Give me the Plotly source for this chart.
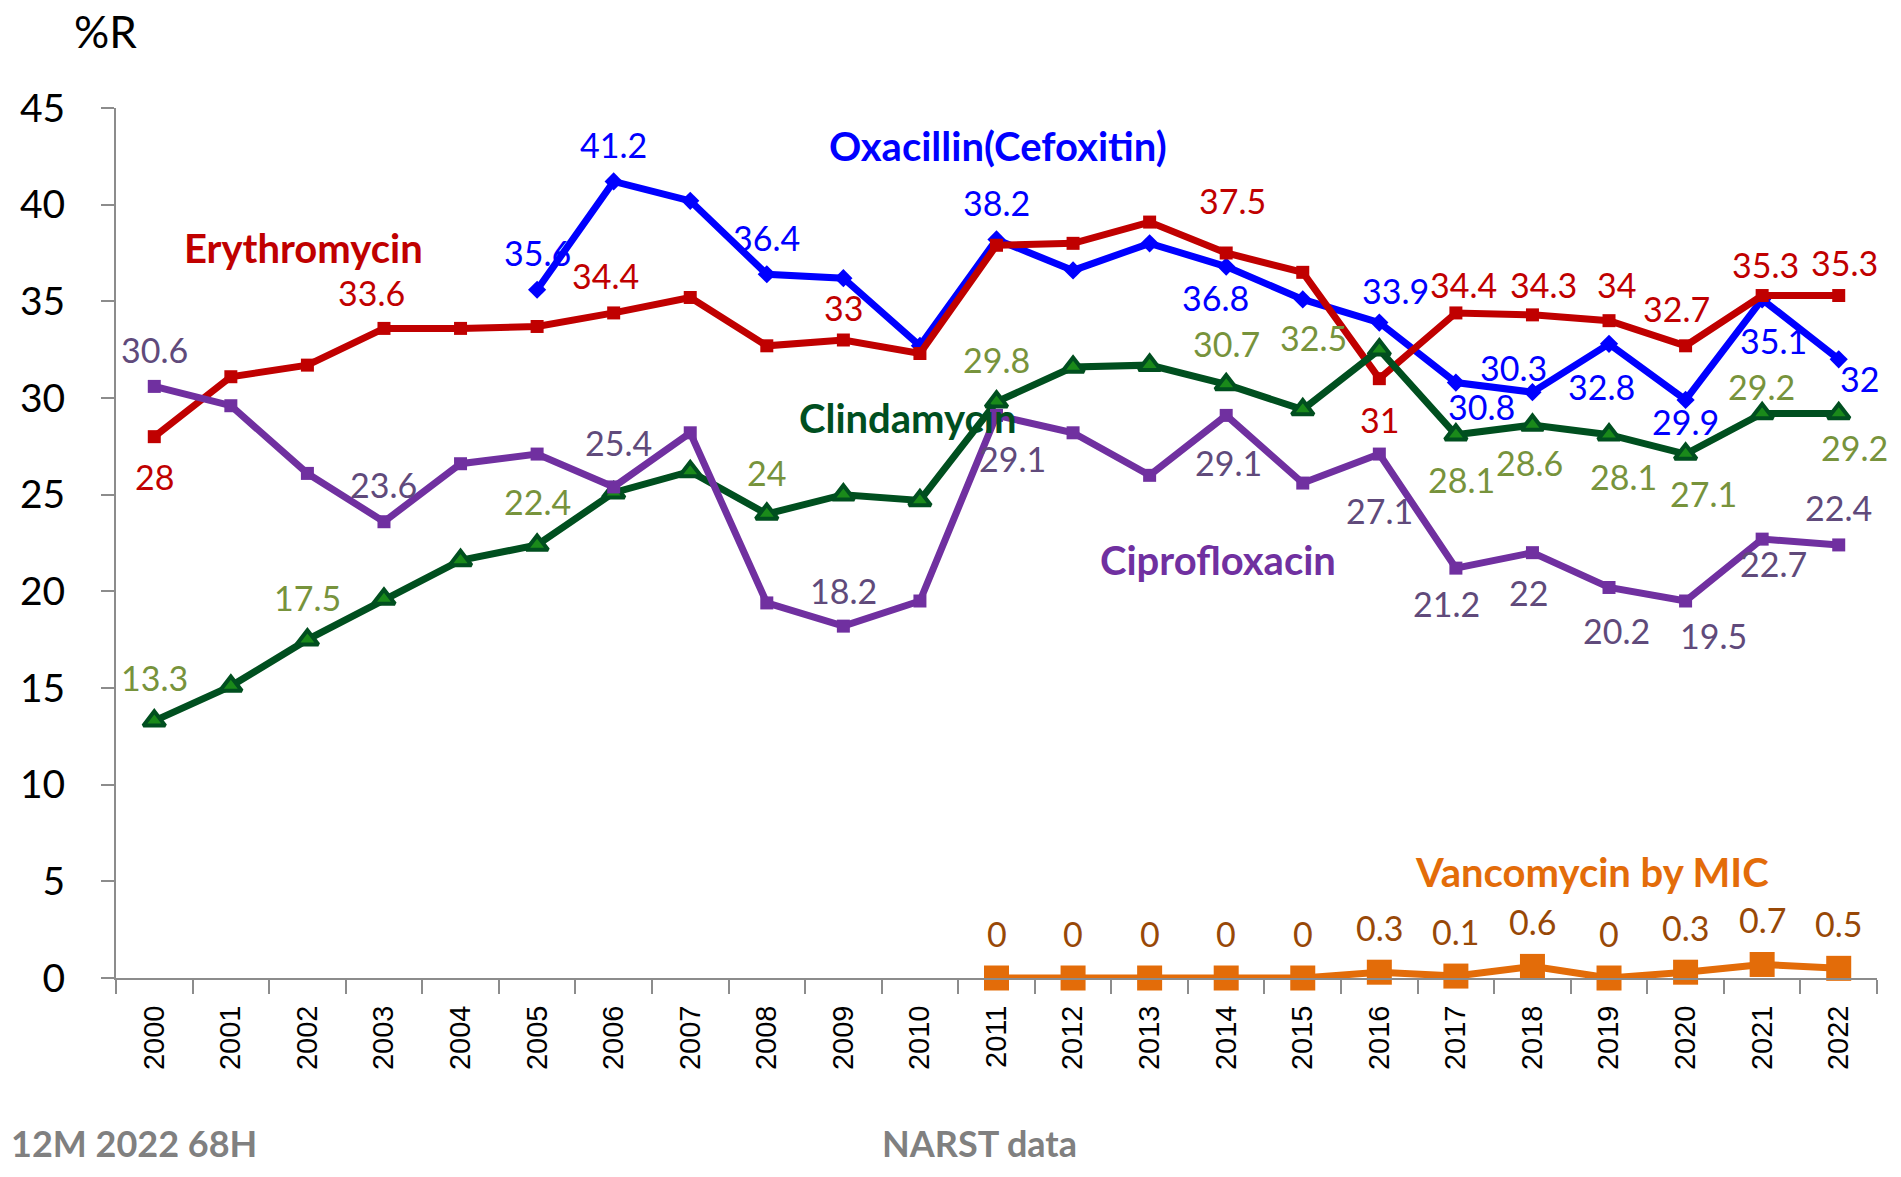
import plotly.graph_objects as go

years = [str(y) for y in range(2000, 2023)]

oxacillin = [None, None, None, None, None, 35.6, 41.2, 40.2, 36.4, 36.2, 32.7, 38.2,
             36.6, 38.0, 36.8, 35.1, 33.9, 30.8, 30.3, 32.8, 29.9, 35.1, 32.0]
erythromycin = [28.0, 31.1, 31.7, 33.6, 33.6, 33.7, 34.4, 35.2, 32.7, 33.0, 32.3, 37.9,
                38.0, 39.1, 37.5, 36.5, 31.0, 34.4, 34.3, 34.0, 32.7, 35.3, 35.3]
clindamycin = [13.3, 15.1, 17.5, 19.6, 21.6, 22.4, 25.1, 26.2, 24.0, 25.0, 24.7, 29.8,
               31.6, 31.7, 30.7, 29.4, 32.5, 28.1, 28.6, 28.1, 27.1, 29.2, 29.2]
ciprofloxacin = [30.6, 29.6, 26.1, 23.6, 26.6, 27.1, 25.4, 28.2, 19.4, 18.2, 19.5, 29.1,
                 28.2, 26.0, 29.1, 25.6, 27.1, 21.2, 22.0, 20.2, 19.5, 22.7, 22.4]
vancomycin = [None] * 11 + [0, 0, 0, 0, 0, 0.3, 0.1, 0.6, 0, 0.3, 0.7, 0.5]

y_ticks = [0, 5, 10, 15, 20, 25, 30, 35, 40, 45]

# label placement (pixel offsets from point: dx right, dy down)
oxa_lbl = {"2005": (0, -37), "2006": (0, -37), "2008": (0, -37), "2011": (0, -37),
           "2014": (-11, 31), "2016": (16, -32), "2017": (26, 24), "2018": (-19, -25),
           "2019": (-8, 43), "2020": (0, 22), "2021": (11, 41), "2022": (21, 19)}
ery_lbl = {"2000": (0, 40), "2003": (-12, -36), "2006": (-8, -37), "2009": (0, -33),
           "2014": (6, -53), "2016": (0, 41), "2017": (8, -28), "2018": (11, -30),
           "2019": (7, -36), "2020": (-9, -37), "2021": (3, -31), "2022": (6, -33)}
cli_lbl = {"2000": (0, -43), "2002": (0, -42), "2005": (0, -43), "2008": (0, -42),
           "2011": (0, -42), "2014": (0, -41), "2016": (-66, -12), "2017": (6, 45),
           "2018": (-3, 37), "2019": (14, 42), "2020": (18, 39), "2021": (-1, -27),
           "2022": (16, 34)}
cip_lbl = {"2000": (0, -37), "2003": (0, -37), "2006": (5, -44), "2009": (0, -36),
           "2011": (16, 43), "2014": (2, 47), "2016": (0, 56), "2017": (-9, 35),
           "2018": (-4, 40), "2019": (7, 43), "2020": (28, 34), "2021": (11, 24),
           "2022": (0, -37)}
van_lbl = {y: (0, -45) for y in years[11:]}

FONT = "Lato"

fig = go.Figure()

series = [
    ("Oxacillin(Cefoxitin)", oxacillin, "#0000FF", "diamond", 14, 7, None, oxa_lbl, "#0000FF"),
    ("Erythromycin", erythromycin, "#C00000", "square", 13, 7, None, ery_lbl, "#C00000"),
    ("Clindamycin", clindamycin, "#004F1F", "triangle-up", 19, 7, ("#004F1F", 4, "#1A8A1A"), cli_lbl, "#77933C"),
    ("Ciprofloxacin", ciprofloxacin, "#7030A0", "square", 13, 7, None, cip_lbl, "#604A7B"),
    ("Vancomycin by MIC", vancomycin, "#E36C09", "square", 25, 7, None, van_lbl, "#984807"),
]

annotations = []
for name, vals, color, sym, msize, lw, mline, lbls, lcolor in series:
    marker = dict(symbol=sym, size=msize, color=color)
    if mline:
        marker = dict(symbol=sym, size=msize, color=mline[2],
                      line=dict(color=mline[0], width=mline[1]))
    fig.add_trace(go.Scatter(x=years, y=vals, mode="lines+markers", name=name,
                             line=dict(color=color, width=lw), marker=marker,
                             cliponaxis=False, showlegend=False))
    for yr, (dx, dy) in lbls.items():
        idx = years.index(yr)
        v = vals[idx]
        annotations.append(dict(x=idx, y=v, xref="x", yref="y", text=f"{v:g}", showarrow=False,
                                xshift=dx, yshift=-dy, xanchor="center", yanchor="middle",
                                font=dict(family=FONT, size=34, color=lcolor)))

def paper_note(text, x, y, size, color, bold=True, xanchor="center", yanchor="middle"):
    annotations.append(dict(x=x, y=y, xref="paper", yref="paper",
                            text=f"<b>{text}</b>" if bold else text,
                            showarrow=False, xanchor=xanchor, yanchor=yanchor,
                            font=dict(family=FONT, size=size, color=color)))

paper_note("%R", -0.0062, 1.0885, 44, "#000000", bold=False)
paper_note("Erythromycin", 0.1063, 0.8391, 40, "#C00000")
paper_note("Oxacillin(Cefoxitin)", 0.5011, 0.9563, 40, "#0000FF")
paper_note("Clindamycin", 0.4497, 0.6437, 40, "#004F1F")
paper_note("Ciprofloxacin", 0.6256, 0.4805, 40, "#7030A0")
paper_note("Vancomycin by MIC", 0.8382, 0.1218, 40, "#E36C09")
paper_note("12M 2022 68H", -0.0605, -0.2175, 36, "#808080", xanchor="left", yanchor="bottom")
paper_note("NARST data", 0.4905, -0.2175, 36, "#808080", yanchor="bottom")

fig.update_layout(
    width=1885, height=1161,
    margin=dict(l=101, r=16, t=100, b=191),
    paper_bgcolor="white", plot_bgcolor="white",
    annotations=annotations,
    xaxis=dict(type="category", categoryorder="array", categoryarray=years,
               range=[-0.5, 22.5], showgrid=False, zeroline=False,
               showline=True, linecolor="#8C8C8C", linewidth=2,
               ticks="outside", tickson="boundaries", ticklen=14, tickcolor="#8C8C8C",
               tickwidth=2, tickangle=-90, ticklabelstandoff=14,
               tickfont=dict(family="Liberation Sans", size=29, color="#000000")),
    yaxis=dict(range=[0, 45], tickvals=y_ticks, showgrid=False, zeroline=False,
               showline=True, linecolor="#8C8C8C", linewidth=2,
               ticks="outside", ticklen=13, tickcolor="#8C8C8C", tickwidth=2,
               ticklabelstandoff=28,
               tickfont=dict(family=FONT, size=39, color="#000000")),
)

fig.write_html("out.html")
